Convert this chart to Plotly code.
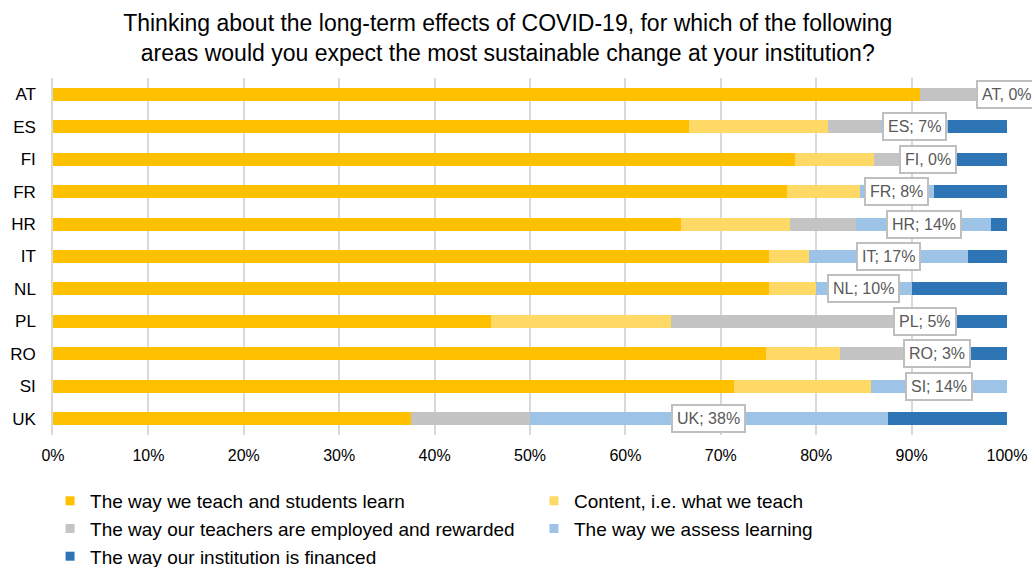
import plotly.graph_objects as go

countries = ["AT", "ES", "FI", "FR", "HR", "IT", "NL", "PL", "RO", "SI", "UK"]
teach = [90.9, 66.7, 77.8, 76.9, 65.8, 75.0, 75.0, 45.9, 74.7, 71.4, 37.5]
content = [0.0, 14.5, 8.3, 7.7, 11.5, 4.2, 5.0, 18.9, 7.8, 14.3, 0.0]
employed = [9.1, 5.6, 5.6, 0.0, 6.9, 0.0, 0.0, 23.9, 8.7, 0.0, 12.5]
assess = [0.0, 7.0, 0.0, 7.7, 14.1, 16.7, 10.0, 5.4, 3.0, 14.3, 37.5]
financed = [0.0, 6.2, 8.3, 7.7, 1.7, 4.1, 10.0, 5.9, 5.8, 0.0, 12.5]
label_texts = ["AT, 0%", "ES; 7%", "FI, 0%", "FR; 8%", "HR; 14%", "IT; 17%",
               "NL; 10%", "PL; 5%", "RO; 3%", "SI; 14%", "UK; 38%"]

series_names = [
    "The way we teach and students learn",
    "Content, i.e. what we teach",
    "The way our teachers are employed and rewarded",
    "The way we assess learning",
    "The way our institution is financed",
]
series_values = [teach, content, employed, assess, financed]
colors = ["#FFC000", "#FFD966", "#C4C4C4", "#9DC3E6", "#2E75B6"]
# legend laid out in two columns, filled row by row
legend_column = ["legend", "legend2", "legend", "legend2", "legend"]

FONT = "Liberation Sans, Arial, sans-serif"

fig = go.Figure()
for name, vals, col, lg in zip(series_names, series_values, colors, legend_column):
    fig.add_trace(go.Bar(
        y=countries, x=vals, name=name, orientation="h",
        marker=dict(color=col, line=dict(width=0)),
        showlegend=False, hoverinfo="x+y+name",
    ))
    fig.add_trace(go.Scatter(
        x=[None], y=[None], mode="markers", name=name,
        marker=dict(symbol="square", size=9, color=col),
        showlegend=True, legend=lg,
    ))

# data labels centered on the "assess" segment
for i, c in enumerate(countries):
    start = teach[i] + content[i] + employed[i]
    fig.add_annotation(
        x=start + assess[i] / 2, y=c, text=label_texts[i], showarrow=False,
        font=dict(family=FONT, size=16, color="#595959"),
        bgcolor="white", bordercolor="#BFBFBF", borderwidth=2, borderpad=4,
        xanchor="center", yanchor="middle",
    )

legend_common = dict(
    orientation="v", traceorder="normal",
    xref="container", yref="container", xanchor="left", yanchor="top",
    font=dict(family=FONT, size=19, color="#000000"),
    itemwidth=30, bgcolor="rgba(0,0,0,0)", tracegroupgap=0,
)

fig.update_layout(
    width=1032, height=567,
    barmode="stack", bargap=0.6,
    paper_bgcolor="white", plot_bgcolor="white",
    margin=dict(l=53, r=25, t=78, b=132, autoexpand=False),
    title=dict(
        text="Thinking about the long-term effects of COVID-19, for which of the following<br>"
             "areas would you expect the most sustainable change at your institution?",
        x=0.492, xanchor="center", xref="container",
        y=0.9456, yanchor="middle", yref="container",
        font=dict(family=FONT, size=23, color="#000000"),
    ),
    xaxis=dict(
        range=[0, 100], tickvals=[0, 10, 20, 30, 40, 50, 60, 70, 80, 90, 100],
        ticktext=["0%", "10%", "20%", "30%", "40%", "50%", "60%", "70%", "80%", "90%", "100%"],
        showgrid=True, gridcolor="#D9D9D9", gridwidth=1.5, zeroline=False,
        tickfont=dict(family=FONT, size=16, color="#000000"), ticks="",
        ticklabelstandoff=9, automargin=False,
    ),
    yaxis=dict(
        categoryorder="array", categoryarray=countries, autorange="reversed",
        showline=True, linecolor="#D9D9D9", linewidth=1.5,
        tickfont=dict(family=FONT, size=17, color="#000000"), ticks="",
        ticklabelstandoff=12, automargin=False,
    ),
    legend=dict(x=0.0485, y=0.15, **legend_common),
    legend2=dict(x=0.5174, y=0.15, **legend_common),
)

fig.write_html("out.html", config={"displayModeBar": False},
               post_script="document.body.style.margin='0';")
